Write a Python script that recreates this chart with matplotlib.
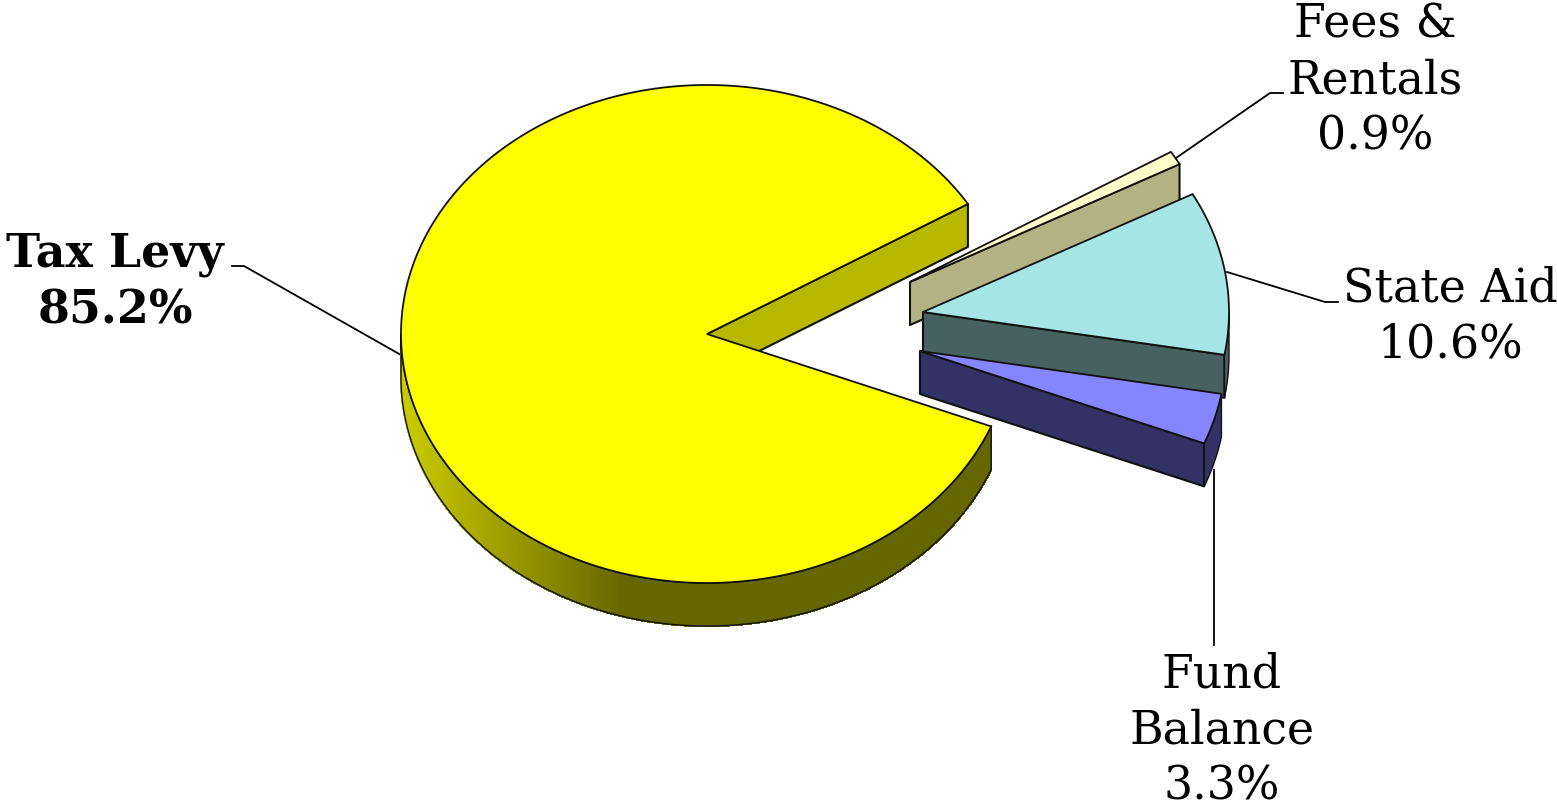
#!/usr/bin/env python3
"""
Exploded 3D-style revenue pie, drawn as ellipses in pixel space.
"""

import numpy as np
import matplotlib
matplotlib.use("Agg")
import matplotlib.pyplot as plt
from matplotlib.collections import PolyCollection

# data
categories = ["Fees &\nRentals", "State Aid", "Fund\nBalance", "Tax Levy"]
shares = [0.9, 10.6, 3.3, 85.2]
label_pcts = ["0.9%", "10.6%", "3.3%", "85.2%"]

# style, same order as the data
top_colors = ["#FFFFCC", "#A6E5E5", "#8585FF", "#FFFF00"]
side_colors = ["#B2B285", "#476060", "#323264", "#666600"]
wall_colors = ["#B2B285", "#476060", "#323264", "#B8B800"]
offsets = [(203, -52), (216, -22), (213, 17), (0, 0)]
label_pos = [(1375, 81), (1450, 317), (1222, 731), (115, 282)]
leaders = [
    [(1176, 158), (1270, 93), (1283, 93)],
    [(1227, 272), (1325, 302), (1338, 302)],
    [(1214, 470), (1214, 645)],
    [(401, 355), (244, 266), (232, 266)],
]

# layout of the pie in pixels
CX, CY = 707, 334
RX, RY = 306, 249
DEPTH = 43
START = 31.5
EDGE = "#111111"


def rim(cx, cy, a0, a1, n=200, drop=0):
    t = np.radians(np.linspace(a0, a1, n))
    return np.column_stack((cx + RX * np.cos(t), cy - RY * np.sin(t) + drop))


def lerp_color(x):
    # tax levy side fades from bright on the left to dark by x=625
    f = np.clip((x - 400) / 225.0, 0, 1)
    left = np.array([0.80, 0.80, 0.0])
    right = np.array([0.40, 0.40, 0.0])
    return tuple(left + (right - left) * f)


def draw_slice(ax, a0, a1, i):
    """a0 > a1, slice runs clockwise from a0 to a1."""
    cx = CX + offsets[i][0]
    cy = CY + offsets[i][1]

    # cut face on the clockwise end
    tip = rim(cx, cy, a1, a1, 1)[0]
    wall = [(cx, cy), tip, (tip[0], tip[1] + DEPTH), (cx, cy + DEPTH)]
    ax.fill(*zip(*wall), facecolor=wall_colors[i], edgecolor=EDGE, lw=1.5, joinstyle="round")

    # outer side, only the part under the equator shows
    lo = max(a1, -180)
    hi = min(a0, 0)
    if hi > lo:
        upper = rim(cx, cy, hi, lo)
        lower = upper + [0, DEPTH]
        is_tax = categories[i] == "Tax Levy"
        if is_tax:
            quads = [
                [upper[k], upper[k + 1], lower[k + 1], lower[k]]
                for k in range(len(upper) - 1)
            ]
            cols = [lerp_color(q[0][0]) for q in quads]
            ax.add_collection(PolyCollection(quads, facecolors=cols, edgecolors=cols,
                                             linewidths=1.0, antialiaseds=False))
        outline = np.vstack((upper, lower[::-1]))
        ax.fill(outline[:, 0], outline[:, 1],
                facecolor="none" if is_tax else side_colors[i],
                edgecolor=EDGE, lw=1.0)

    # top face
    arc = rim(cx, cy, a0, a1, 400)
    top = np.vstack(([cx, cy], arc))
    ax.fill(top[:, 0], top[:, 1], facecolor=top_colors[i], edgecolor=EDGE, lw=1.3, joinstyle="miter")


fig = plt.figure(figsize=(15.57, 8.10), dpi=100)
ax = fig.add_axes([0, 0, 1, 1])
ax.set_xlim(0, 1557)
ax.set_ylim(810, 0)
ax.axis("off")

for pts in leaders:
    xs, ys = zip(*pts)
    ax.plot(xs, ys, color="black", lw=1.3, zorder=0)

# angles from the shares, clockwise from the start angle
ends = START - np.cumsum(shares) * 3.6
starts = np.concatenate(([START], ends[:-1]))

# tax levy first, then back to front
for i in [3, 0, 1, 2]:
    draw_slice(ax, starts[i], ends[i], i)

for i, name in enumerate(categories):
    bold = name == "Tax Levy"
    ax.text(label_pos[i][0], label_pos[i][1], name + "\n" + label_pcts[i],
            ha="center", va="center", family="DejaVu Serif", fontsize=33,
            fontweight="bold" if bold else "normal", linespacing=1.3, color="black")

fig.savefig("out.png", dpi=100)
